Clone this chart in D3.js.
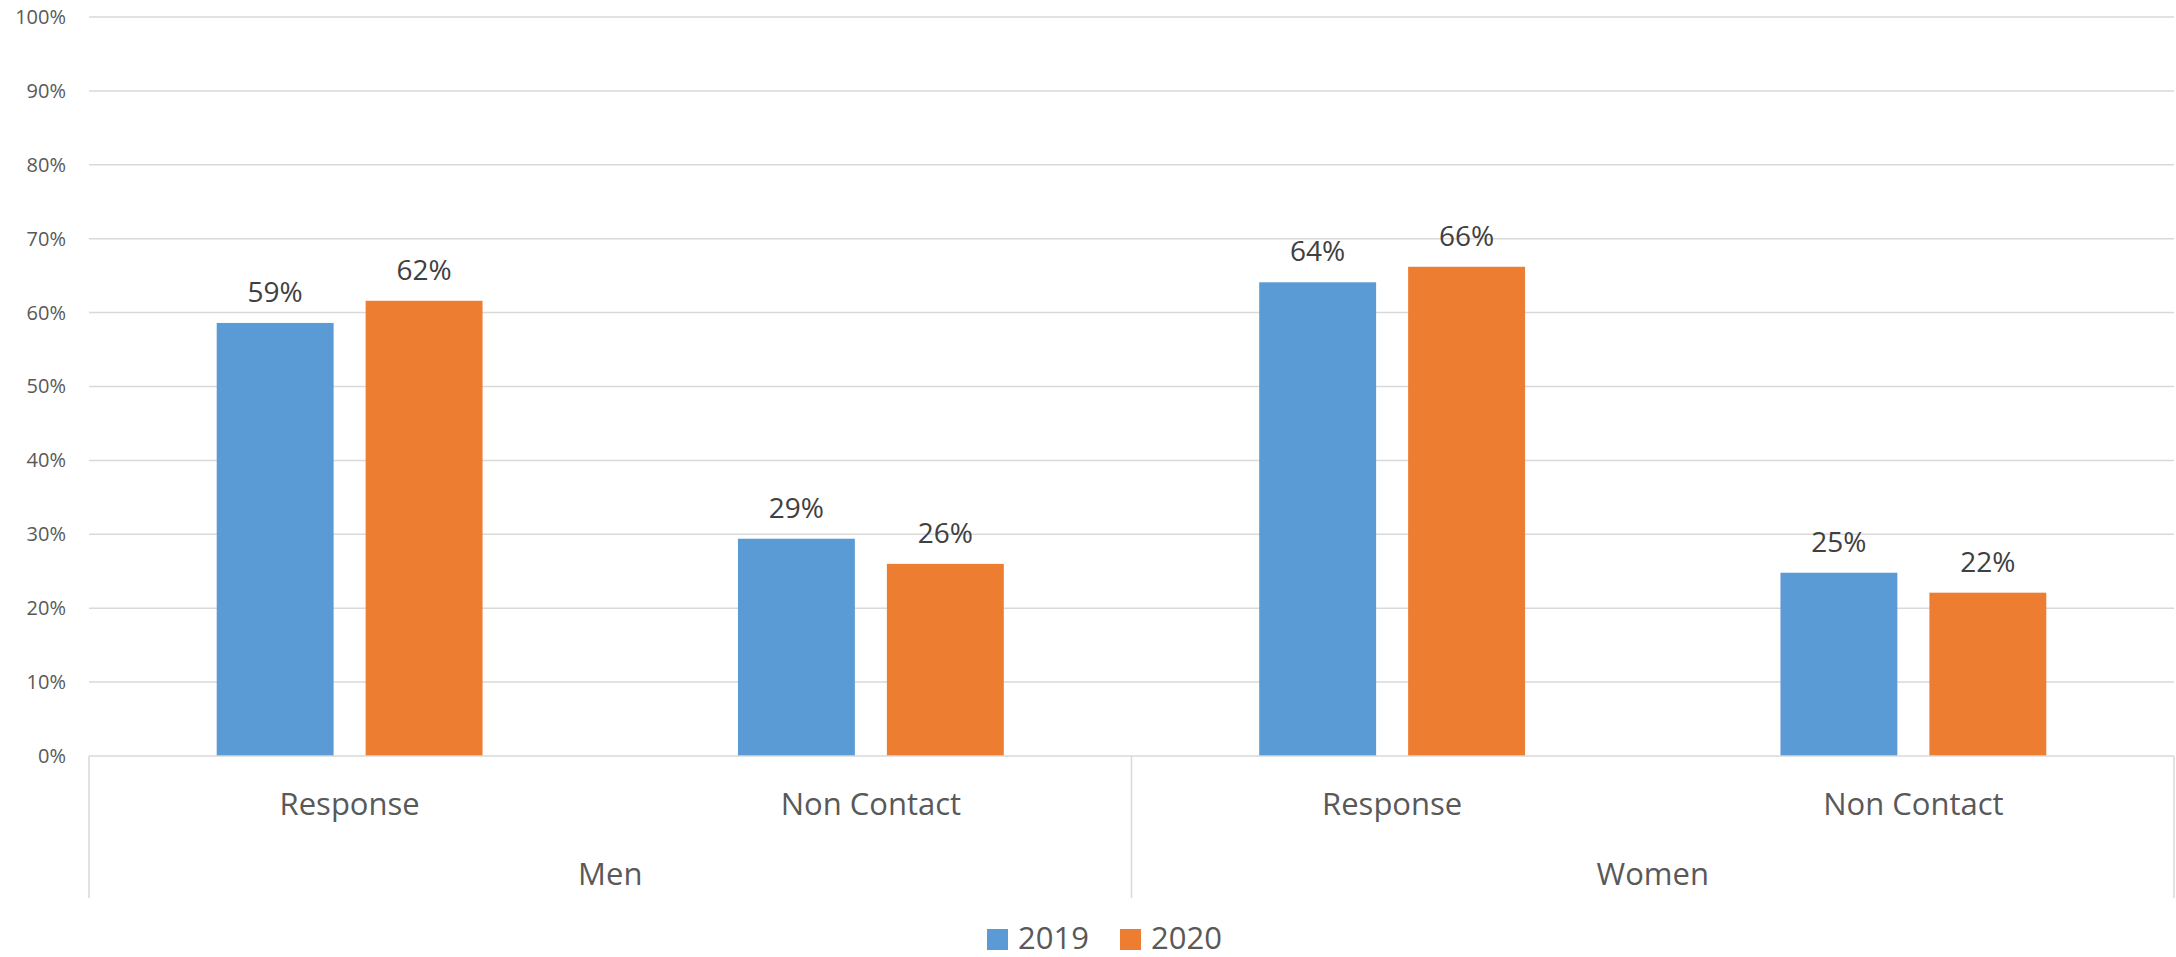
<!DOCTYPE html>
<html>
<head>
<meta charset="utf-8">
<script src="https://cdn.jsdelivr.net/npm/d3@7"></script>
<style>
  body { margin: 0; background: #fff; }
  svg { display: block; font-family: "Open Sans", sans-serif; }
</style>
</head>
<body>
<svg id="chart" width="2176" height="957"></svg>
<script>
const groups = ['Men', 'Women'];
const categories = ['Response', 'Non Contact'];
const series = ['2019', '2020'];
const colors = ['#5B9BD5', '#ED7D31'];
// values in %, per group+category, order [2019, 2020]
const menValues = [[58.6, 61.6], [29.4, 26.0]];
const womenValues = [[64.1, 66.2], [24.8, 22.1]];
const yTicks = [0, 10, 20, 30, 40, 50, 60, 70, 80, 90, 100];

const svg = d3.select('#chart');
const plotLeft = 89, plotRight = 2174, plotTop = 17, plotBottom = 756, axisBottom = 898;

const rows = [];
[menValues, womenValues].forEach((vals, gi) => {
  categories.forEach((c, ci) => {
    rows.push({ key: groups[gi] + '|' + c, group: groups[gi], cat: c, values: vals[ci] });
  });
});

const x = d3.scaleBand().domain(rows.map(d => d.key)).range([plotLeft, plotRight]);
const bw = x.bandwidth();
const xs = d3.scaleBand().domain(series)
  .range([bw * 0.245, bw * 0.755]).paddingInner(0.215);
const y = d3.scaleLinear().domain([0, 100]).range([plotBottom, plotTop]);

// gridlines
svg.append('g').selectAll('line').data(yTicks.slice(1)).join('line')
  .attr('x1', plotLeft).attr('x2', plotRight)
  .attr('y1', d => y(d)).attr('y2', d => y(d))
  .attr('stroke', '#d9d9d9').attr('stroke-width', 1.5);

// y axis labels
const yAxis = d3.axisLeft(y).tickValues(yTicks).tickFormat(d => d + '%').tickSize(0).tickPadding(23);
svg.append('g').attr('transform', `translate(${plotLeft},0)`).call(yAxis)
  .call(g => g.select('.domain').remove())
  .selectAll('text')
  .attr('fill', '#595959').style('font-size', '20px').style('font-family', '"Open Sans", sans-serif');

// bars
const cat = svg.append('g').selectAll('g').data(rows).join('g')
  .attr('transform', d => `translate(${x(d.key)},0)`);

cat.selectAll('rect').data(d => d.values.map((v, i) => ({ s: series[i], v, i }))).join('rect')
  .attr('x', d => xs(d.s))
  .attr('width', xs.bandwidth())
  .attr('y', d => y(d.v))
  .attr('height', d => y(0) - y(d.v))
  .attr('fill', d => colors[d.i]);

cat.selectAll('text.lbl').data(d => d.values.map((v, i) => ({ s: series[i], v }))).join('text')
  .attr('class', 'lbl')
  .attr('x', d => xs(d.s) + xs.bandwidth() / 2)
  .attr('y', d => y(d.v) - 21)
  .attr('text-anchor', 'middle')
  .attr('fill', '#404040')
  .style('font-size', '28px')
  .text(d => Math.round(d.v) + '%');

// category axis box
const axis = svg.append('g').attr('stroke', '#d9d9d9').attr('stroke-width', 1.5);
axis.append('line').attr('x1', plotLeft).attr('x2', plotRight).attr('y1', plotBottom).attr('y2', plotBottom);
const groupEdges = [x(rows[0].key), x(rows[2].key), plotRight];
axis.selectAll('line.v').data(groupEdges).join('line')
  .attr('class', 'v')
  .attr('x1', d => d).attr('x2', d => d)
  .attr('y1', plotBottom).attr('y2', axisBottom);

svg.append('g').selectAll('text').data(rows).join('text')
  .attr('x', d => x(d.key) + bw / 2)
  .attr('y', 815)
  .attr('text-anchor', 'middle')
  .attr('fill', '#595959')
  .style('font-size', '31px')
  .text(d => d.cat);

svg.append('g').selectAll('text').data(groups).join('text')
  .attr('x', (d, i) => (groupEdges[i] + groupEdges[i + 1]) / 2)
  .attr('y', 885)
  .attr('text-anchor', 'middle')
  .attr('fill', '#595959')
  .style('font-size', '31px')
  .text(d => d);

// legend
const legend = svg.append('g');
const legX = [987, 1120];
series.forEach((s, i) => {
  legend.append('rect').attr('x', legX[i]).attr('y', 929).attr('width', 21).attr('height', 21).attr('fill', colors[i]);
  legend.append('text').attr('x', legX[i] + 31).attr('y', 949)
    .attr('fill', '#595959').style('font-size', '31px').text(s);
});
</script>
</body>
</html>
